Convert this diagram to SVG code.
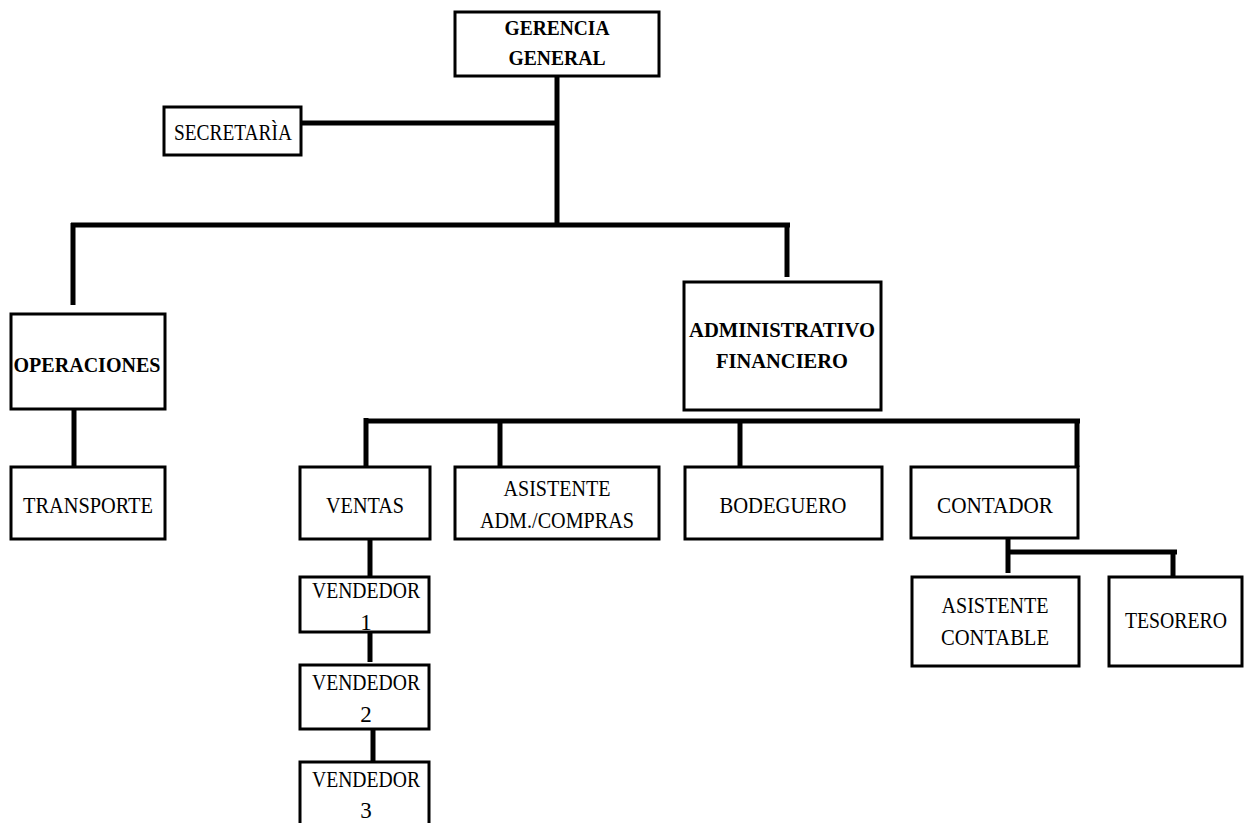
<svg xmlns="http://www.w3.org/2000/svg" width="1244" height="823" viewBox="0 0 1244 823">
<style>
.box{fill:#fff;stroke:#000;stroke-width:3}
.c{stroke:#000;stroke-width:5;fill:none;stroke-linecap:butt}
.t{font-family:"Liberation Serif","Times New Roman",serif;font-size:23px;text-anchor:middle;fill:#000}
.b{font-weight:bold;font-size:22px}
.g{font-size:20px}
</style>
<rect width="1244" height="823" fill="#fff"/>
<g id="connectors">
<line class="c" x1="557" y1="76" x2="557" y2="227"/>
<line class="c" x1="301" y1="123" x2="557" y2="123"/>
<line class="c" x1="71" y1="225" x2="790" y2="225"/>
<line class="c" x1="73" y1="223" x2="73" y2="305"/>
<line class="c" x1="787" y1="223" x2="787" y2="277"/>
<line class="c" x1="74" y1="409" x2="74" y2="467"/>
<line class="c" x1="364" y1="421" x2="1080" y2="421"/>
<line class="c" x1="366" y1="418" x2="366" y2="470"/>
<line class="c" x1="500" y1="421" x2="500" y2="467"/>
<line class="c" x1="740" y1="421" x2="740" y2="467"/>
<line class="c" x1="1077" y1="419" x2="1077" y2="467"/>
<line class="c" x1="370" y1="538" x2="370" y2="577"/>
<line class="c" x1="370" y1="632" x2="370" y2="662"/>
<line class="c" x1="373" y1="729" x2="373" y2="762"/>
<line class="c" x1="1008" y1="535" x2="1008" y2="573"/>
<line class="c" x1="1006" y1="552" x2="1177" y2="552"/>
<line class="c" x1="1173" y1="552" x2="1173" y2="577"/>
</g>
<g id="gerencia">
<rect class="box" x="455" y="12" width="204" height="64"/>
<text class="t b g" x="557" y="35" textLength="105" lengthAdjust="spacingAndGlyphs">GERENCIA</text>
<text class="t b g" x="557" y="65" textLength="97" lengthAdjust="spacingAndGlyphs">GENERAL</text>
</g>
<g id="secretaria">
<rect class="box" x="164" y="107" width="137" height="48"/>
<text class="t" x="233" y="140" textLength="118" lengthAdjust="spacingAndGlyphs">SECRETARÌA</text>
</g>
<g id="operaciones">
<rect class="box" x="11" y="314" width="154" height="95"/>
<text class="t b" x="87" y="372" textLength="147" lengthAdjust="spacingAndGlyphs">OPERACIONES</text>
</g>
<g id="administrativo">
<rect class="box" x="684" y="282" width="197" height="128"/>
<text class="t b" x="782" y="337" textLength="186" lengthAdjust="spacingAndGlyphs">ADMINISTRATIVO</text>
<text class="t b" x="782" y="368" textLength="132" lengthAdjust="spacingAndGlyphs">FINANCIERO</text>
</g>
<g id="transporte">
<rect class="box" x="11" y="467" width="154" height="72"/>
<text class="t" x="88" y="513" textLength="130" lengthAdjust="spacingAndGlyphs">TRANSPORTE</text>
</g>
<g id="ventas">
<rect class="box" x="300" y="467" width="130" height="72"/>
<text class="t" x="365" y="513" textLength="78" lengthAdjust="spacingAndGlyphs">VENTAS</text>
</g>
<g id="asistente-adm">
<rect class="box" x="455" y="467" width="204" height="72"/>
<text class="t" x="557" y="496" textLength="107" lengthAdjust="spacingAndGlyphs">ASISTENTE</text>
<text class="t" x="557" y="528" textLength="154" lengthAdjust="spacingAndGlyphs">ADM./COMPRAS</text>
</g>
<g id="bodeguero">
<rect class="box" x="685" y="467" width="197" height="72"/>
<text class="t" x="783" y="513" textLength="127" lengthAdjust="spacingAndGlyphs">BODEGUERO</text>
</g>
<g id="contador">
<rect class="box" x="911" y="467" width="167" height="71"/>
<text class="t" x="995" y="513" textLength="116" lengthAdjust="spacingAndGlyphs">CONTADOR</text>
</g>
<g id="asistente-contable">
<rect class="box" x="912" y="577" width="167" height="89"/>
<text class="t" x="995" y="613" textLength="107" lengthAdjust="spacingAndGlyphs">ASISTENTE</text>
<text class="t" x="995" y="645" textLength="108" lengthAdjust="spacingAndGlyphs">CONTABLE</text>
</g>
<g id="tesorero">
<rect class="box" x="1109" y="577" width="133" height="89"/>
<text class="t" x="1176" y="628" textLength="102" lengthAdjust="spacingAndGlyphs">TESORERO</text>
</g>
<g id="vendedor1">
<rect class="box" x="300" y="577" width="129" height="55"/>
<text class="t" x="366" y="598" textLength="108" lengthAdjust="spacingAndGlyphs">VENDEDOR</text>
<text class="t" x="366" y="630">1</text>
</g>
<g id="vendedor2">
<rect class="box" x="300" y="665" width="129" height="64"/>
<text class="t" x="366" y="690" textLength="108" lengthAdjust="spacingAndGlyphs">VENDEDOR</text>
<text class="t" x="366" y="722">2</text>
</g>
<g id="vendedor3">
<rect class="box" x="300" y="762" width="129" height="70"/>
<text class="t" x="366" y="787" textLength="108" lengthAdjust="spacingAndGlyphs">VENDEDOR</text>
<text class="t" x="366" y="818">3</text>
</g>
</svg>
